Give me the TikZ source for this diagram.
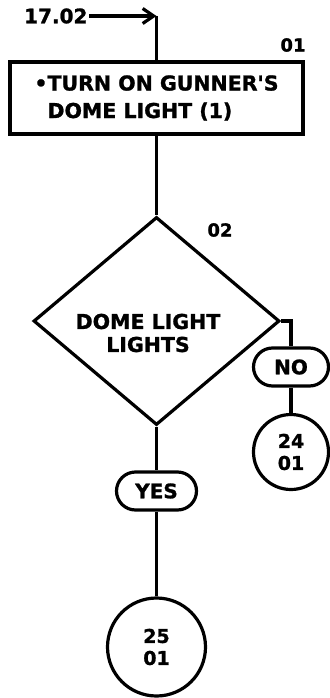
\documentclass[tikz,border=0pt]{standalone}
\usepackage{fontspec}
\setmainfont{DejaVu Sans}[BoldFeatures={FakeBold=1.2}]
\usetikzlibrary{shapes.geometric,shapes.misc,arrows.meta}
\begin{document}
\begin{tikzpicture}[x=1pt,y=-1pt,
  line width=3.2pt,
  lbl/.style={font=\bfseries\fontsize{18}{22}\selectfont, inner sep=0pt},
  stepbox/.style={draw, rectangle, minimum width=293pt, minimum height=72pt, inner sep=0pt, font=\bfseries\fontsize{20.5}{27.5}\selectfont, align=left},
  decision/.style={draw, diamond, minimum width=246pt, minimum height=208pt, inner sep=0pt},
  dtext/.style={font=\bfseries\fontsize{20.5}{23}\selectfont, align=center, inner sep=0pt},
  answer/.style={draw, rounded rectangle, minimum height=38pt, inner sep=0pt, font=\bfseries\fontsize{20}{24}\selectfont},
  conn/.style={draw, circle, inner sep=0pt, align=center, font=\bfseries\fontsize{19}{22}\selectfont},
]
\useasboundingbox (0,0) rectangle (329,698);
\node[stepbox] (b1) at (156.5,98) {•TURN ON GUNNER\textquotesingle S\\\phantom{•}DOME LIGHT (1)};
\node[lbl, anchor=east, font=\bfseries\fontsize{20}{22}\selectfont] (src) at (89,16) {17.02};
\coordinate (c0) at (b1.north |- src.east);
\node[lbl] (n01) at (293,45) {01};
\node[decision] (d) at (156.5,321) {};
\node[dtext] (dt) at (148,333) {DOME LIGHT\\LIGHTS};
\node[lbl] (n02) at (220,230) {02};
\node[answer, minimum width=75pt] (no) at (291,367) {NO};
\node[conn, minimum size=75pt] (c24) at (291,452) {24\\01};
\node[answer, minimum width=80pt] (yes) at (156.5,491) {YES};
\node[conn, minimum size=98pt] (c25) at (156.5,647) {25\\01};
\draw[-{Straight Barb[length=11pt,width=15pt]}] (src.east) -- (c0);
\draw (c0) -- (b1.north);
\draw (b1.south) -- (d.north);
\draw (d.east) -| (no.north);
\draw (no.south) -- (c24.north);
\draw (d.south) -- (yes.north);
\draw (yes.south) -- (c25.north);
\end{tikzpicture}
\end{document}
